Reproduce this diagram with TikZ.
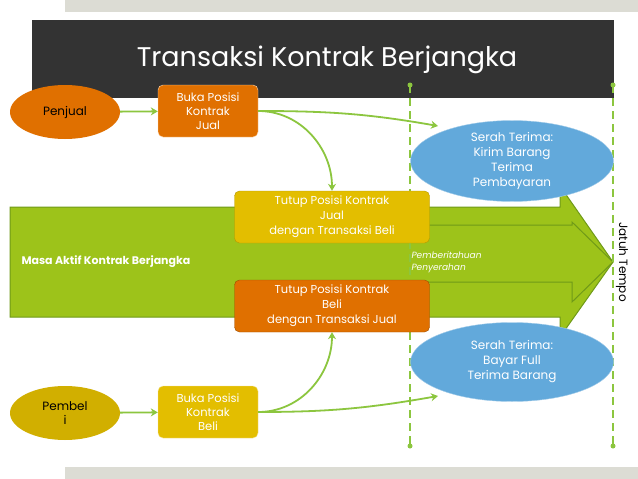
\documentclass[tikz,border=0pt]{standalone}
\usepackage{fontspec}
\setmainfont{Poppins}
\usetikzlibrary{positioning,shapes.geometric,arrows.meta}
\definecolor{arrowgreen}{HTML}{9DC31A}
\definecolor{edgegreen}{HTML}{6F9A18}
\definecolor{linkgreen}{HTML}{8CC63F}
\definecolor{boxorange}{HTML}{E07000}
\definecolor{boxyellow}{HTML}{E3BE00}
\definecolor{bubbleblue}{HTML}{62A9DB}
\definecolor{bargray}{HTML}{DCDCD4}
\definecolor{titlegray}{HTML}{333333}
\begin{document}
\begin{tikzpicture}[x=1pt,y=-1pt,
      actor/.style={ellipse,minimum width=110pt,minimum height=54pt,inner sep=0pt,text=black,align=center,font=\fontsize{12}{14}\selectfont},
      openbox/.style={rectangle,rounded corners=5pt,minimum width=100pt,minimum height=52pt,inner sep=1pt,text=white,align=center,draw=white!70!orange,font=\fontsize{11.5}{14}\selectfont},
      closebox/.style={rectangle,rounded corners=5pt,minimum width=195pt,minimum height=52pt,inner sep=1pt,text=white,align=center,font=\fontsize{11.5}{15}\selectfont},
      bubble/.style={ellipse,minimum width=203pt,minimum height=79pt,inner sep=0pt,fill=bubbleblue,draw=bubbleblue!60,text=white,align=center,font=\fontsize{12}{15}\selectfont},
      arr/.style={line width=1.8pt,linkgreen,-{Stealth[length=7pt,width=8pt]}},
      due/.style={line width=1.4pt,linkgreen,dash pattern=on 8pt off 5pt}
      ]
      \useasboundingbox (0,0) rectangle (638,479);
      \fill[white] (0,0) rectangle (638,479);
      % bars
      \fill[bargray] (65,0) rectangle (638,12);
      \fill[bargray] (65,467) rectangle (638,479);
      \fill[titlegray] (32,20) rectangle (614,98);
      \node (title) at (327,60) [text=white,font=\fontsize{27}{30}\selectfont] {Transaksi Kontrak Berjangka};
      % big arrow
      \draw[fill=arrowgreen,draw=edgegreen,line width=1pt] (10,207) -- (560,207) -- (560,186) -- (613,262) -- (560,337) -- (560,317) -- (10,317) -- cycle;
      \draw[edgegreen,line width=1pt] (425,225) -- (572,225) -- (572,222) -- (613,262) -- (572,302) -- (572,282) -- (425,282);
      \node (masa) at (18,262) [anchor=west,text=white,font=\fontsize{11}{13}\selectfont\bfseries] {Masa Aktif Kontrak Berjangka};
      \node (notice) at (408,262) [anchor=west,text=white,align=left,font=\fontsize{9}{12}\selectfont\itshape] {Pemberitahuan\\Penyerahan};
      % due lines
      \coordinate (d1t) at (410,85);
      \coordinate (d1b) at (410,446);
      \coordinate (d2t) at (613,85);
      \coordinate (d2b) at (613,446);
      \draw[due] (d1t) -- (d1b);
      \draw[due] (d2t) -- (d2b);
      \foreach \p in {d1t,d1b,d2t,d2b} \fill[linkgreen] (\p) circle (2.5pt);
      \node (tempo) at (622,262) [rotate=-90,font=\fontsize{12}{14}\selectfont] {Jatuh Tempo};
      % seller side
      \node (seller) at (65,112) [actor,fill=boxorange] {Penjual};
      \node (sellopen) at (208,111) [openbox,fill=boxorange] {Buka Posisi\\Kontrak\\Jual};
      \node (sellclose) at (332,217) [closebox,fill=boxyellow,draw=boxyellow!80!black] {Tutup Posisi Kontrak\\Jual\\dengan Transaksi Beli};
      \node (selldeliv) at (512,161) [bubble] {Serah Terima:\\Kirim Barang\\Terima\\Pembayaran};
      % buyer side
      \node (buyer) at (65,413) [actor,fill=boxyellow!92!black] {Pembel\\i};
      \node (buyopen) at (208,412) [openbox,fill=boxyellow,draw=white!60!boxyellow] {Buka Posisi\\Kontrak\\Beli};
      \node (buyclose) at (332,306) [closebox,fill=boxorange,draw=boxorange!70!black] {Tutup Posisi Kontrak\\Beli\\dengan Transaksi Jual};
      \node (buydeliv) at (512,362) [bubble] {Serah Terima:\\Bayar Full\\Terima Barang};
      % links
      \draw[arr] (seller) -- (sellopen);
      \draw[arr] (sellopen.east) to[out=0,in=90] (sellclose.north);
      \draw[arr] (sellopen.east) to[out=0,in=170] (438,126);
      \draw[arr] (buyer) -- (buyopen);
      \draw[arr] (buyopen.east) to[out=0,in=-90] (buyclose.south);
      \draw[arr] (buyopen.east) to[out=0,in=190] (438,396);
    \end{tikzpicture}
\end{document}
